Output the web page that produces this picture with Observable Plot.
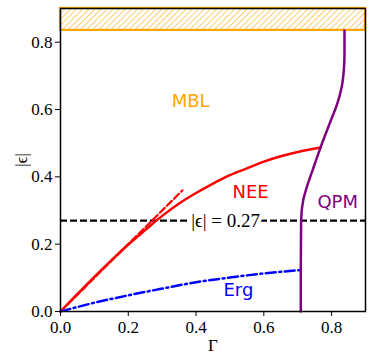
<!DOCTYPE html>
<html>
<head>
<meta charset="utf-8">
<script src="https://cdn.jsdelivr.net/npm/d3@7"></script>
<script src="https://cdn.jsdelivr.net/npm/@observablehq/plot@0.6"></script>
<style>
  body { margin: 0; background: white; }
</style>
</head>
<body>
<div id="chart"></div>
<script>
// NEE boundary (solid red)
const neeGamma = [0, 0.05, 0.10, 0.15, 0.20, 0.25, 0.30, 0.35, 0.40, 0.45, 0.50, 0.55, 0.60, 0.65, 0.70, 0.768];
const neeEps   = [0, 0.052, 0.103, 0.152, 0.199, 0.242, 0.284, 0.321, 0.352, 0.380, 0.405, 0.425, 0.445, 0.461, 0.474, 0.487];
// small-Γ linear asymptote (dashed red)
const linGamma = [0, 0.36];
const linEps   = [0, 0.36];
// Erg boundary (blue dash-dot)
const ergGamma = [0, 0.1, 0.2, 0.3, 0.4, 0.5, 0.6, 0.709];
const ergEps   = [0, 0.026, 0.048, 0.068, 0.087, 0.101, 0.113, 0.123];
// QPM boundary (purple)
const qpmGamma = [0.709, 0.709, 0.710, 0.716, 0.727, 0.744, 0.768, 0.798, 0.817, 0.830, 0.836, 0.838, 0.838];
const qpmEps   = [0, 0.12, 0.27, 0.33, 0.37, 0.42, 0.489, 0.568, 0.618, 0.668, 0.717, 0.767, 0.835];
// MBL band
const mblLow = 0.835;
const mblHigh = 0.9;
// threshold
const epsThreshold = 0.27;
// ticks
const xTicks = [0, 0.2, 0.4, 0.6, 0.8];
const yTicks = [0, 0.2, 0.4, 0.6, 0.8];
// region labels
const regionNames  = ["MBL", "NEE", "QPM", "Erg"];
const regionGamma  = [0.384, 0.561, 0.818, 0.525];
const regionEps    = [0.624, 0.353, 0.324, 0.0625];
const regionColors = ["orange", "red", "purple", "blue"];

const SERIF = "'Liberation Serif', 'Times New Roman', serif";
const SANS = "'DejaVu Sans', sans-serif";

const zip = (xs, ys) => xs.map((x, i) => ({x, y: ys[i]}));
const nee = zip(neeGamma, neeEps);
const lin = zip(linGamma, linEps);
const erg = zip(ergGamma, ergEps);
const qpm = zip(qpmGamma, qpmEps);
const labels = regionNames.map((t, i) => ({t, x: regionGamma[i], y: regionEps[i], c: regionColors[i]}));

const plot = Plot.plot({
  width: 373,
  height: 363,
  marginLeft: 60,
  marginRight: 8,
  marginTop: 8,
  marginBottom: 52,
  style: {color: "black", background: "white"},
  x: {domain: [0, 0.9]},
  y: {domain: [0, mblHigh]},
  marks: [
    Plot.rect([{y1: mblLow, y2: mblHigh}], {x1: 0, x2: 0.9, y1: "y1", y2: "y2", fill: "url(#hatch)", stroke: "orange", strokeWidth: 2.2}),
    Plot.ruleY([epsThreshold], {stroke: "black", strokeWidth: 2.2, strokeDasharray: "7,3"}),
    Plot.line(lin, {x: "x", y: "y", stroke: "red", strokeWidth: 2.2, strokeDasharray: "7,3"}),
    Plot.line(nee, {x: "x", y: "y", stroke: "red", strokeWidth: 2.5, curve: "monotone-x"}),
    Plot.line(erg, {x: "x", y: "y", stroke: "blue", strokeWidth: 2.5, strokeDasharray: "10,3.5,2,3.5", curve: "monotone-x"}),
    Plot.line(qpm, {x: "x", y: "y", stroke: "purple", strokeWidth: 2.5, curve: "monotone-y"}),
    Plot.text([{x: 0.487, y: epsThreshold}], {x: "x", y: "y", text: () => "|ϵ| = 0.27", fontFamily: SERIF, fontSize: 19, fill: "black", stroke: "white", strokeWidth: 8, strokeLinejoin: "miter", className: "serif"}),
    Plot.text(labels, {x: "x", y: "y", text: "t", fill: "c", fontFamily: SANS, fontSize: 18, className: "sans"}),
    Plot.axisX(xTicks, {tickFormat: d3.format(".1f"), tickSize: 5, tickPadding: 4, fontSize: 17, fontFamily: SERIF, label: "Γ", labelAnchor: "center", labelArrow: "none", labelOffset: 39, className: "serif"}),
    Plot.axisY(yTicks, {tickFormat: d3.format(".1f"), tickSize: 5, tickPadding: 3, fontSize: 17, fontFamily: SERIF, label: "|ϵ|", labelAnchor: "center", labelArrow: "none", labelOffset: 46, className: "serif"}),
    Plot.frame({stroke: "black", strokeWidth: 1.5})
  ]
});

const svg = d3.select(plot);
svg.attr("font-family", SERIF);
svg.selectAll("text").each(function() {
  const inSans = this.closest("g.sans") !== null;
  d3.select(this).style("font-family", inSans ? SANS : SERIF);
});
const defs = svg.insert("defs", ":first-child");
const pat = defs.append("pattern")
  .attr("id", "hatch")
  .attr("patternUnits", "userSpaceOnUse")
  .attr("width", 4.3)
  .attr("height", 4.3)
  .attr("patternTransform", "rotate(45)");
pat.append("rect").attr("width", 4.3).attr("height", 4.3).attr("fill", "white");
pat.append("line").attr("x1", 0).attr("y1", 0).attr("x2", 0).attr("y2", 4.3)
  .attr("stroke", "orange").attr("stroke-width", 1.1);

document.getElementById("chart").appendChild(plot);
</script>
</body>
</html>
